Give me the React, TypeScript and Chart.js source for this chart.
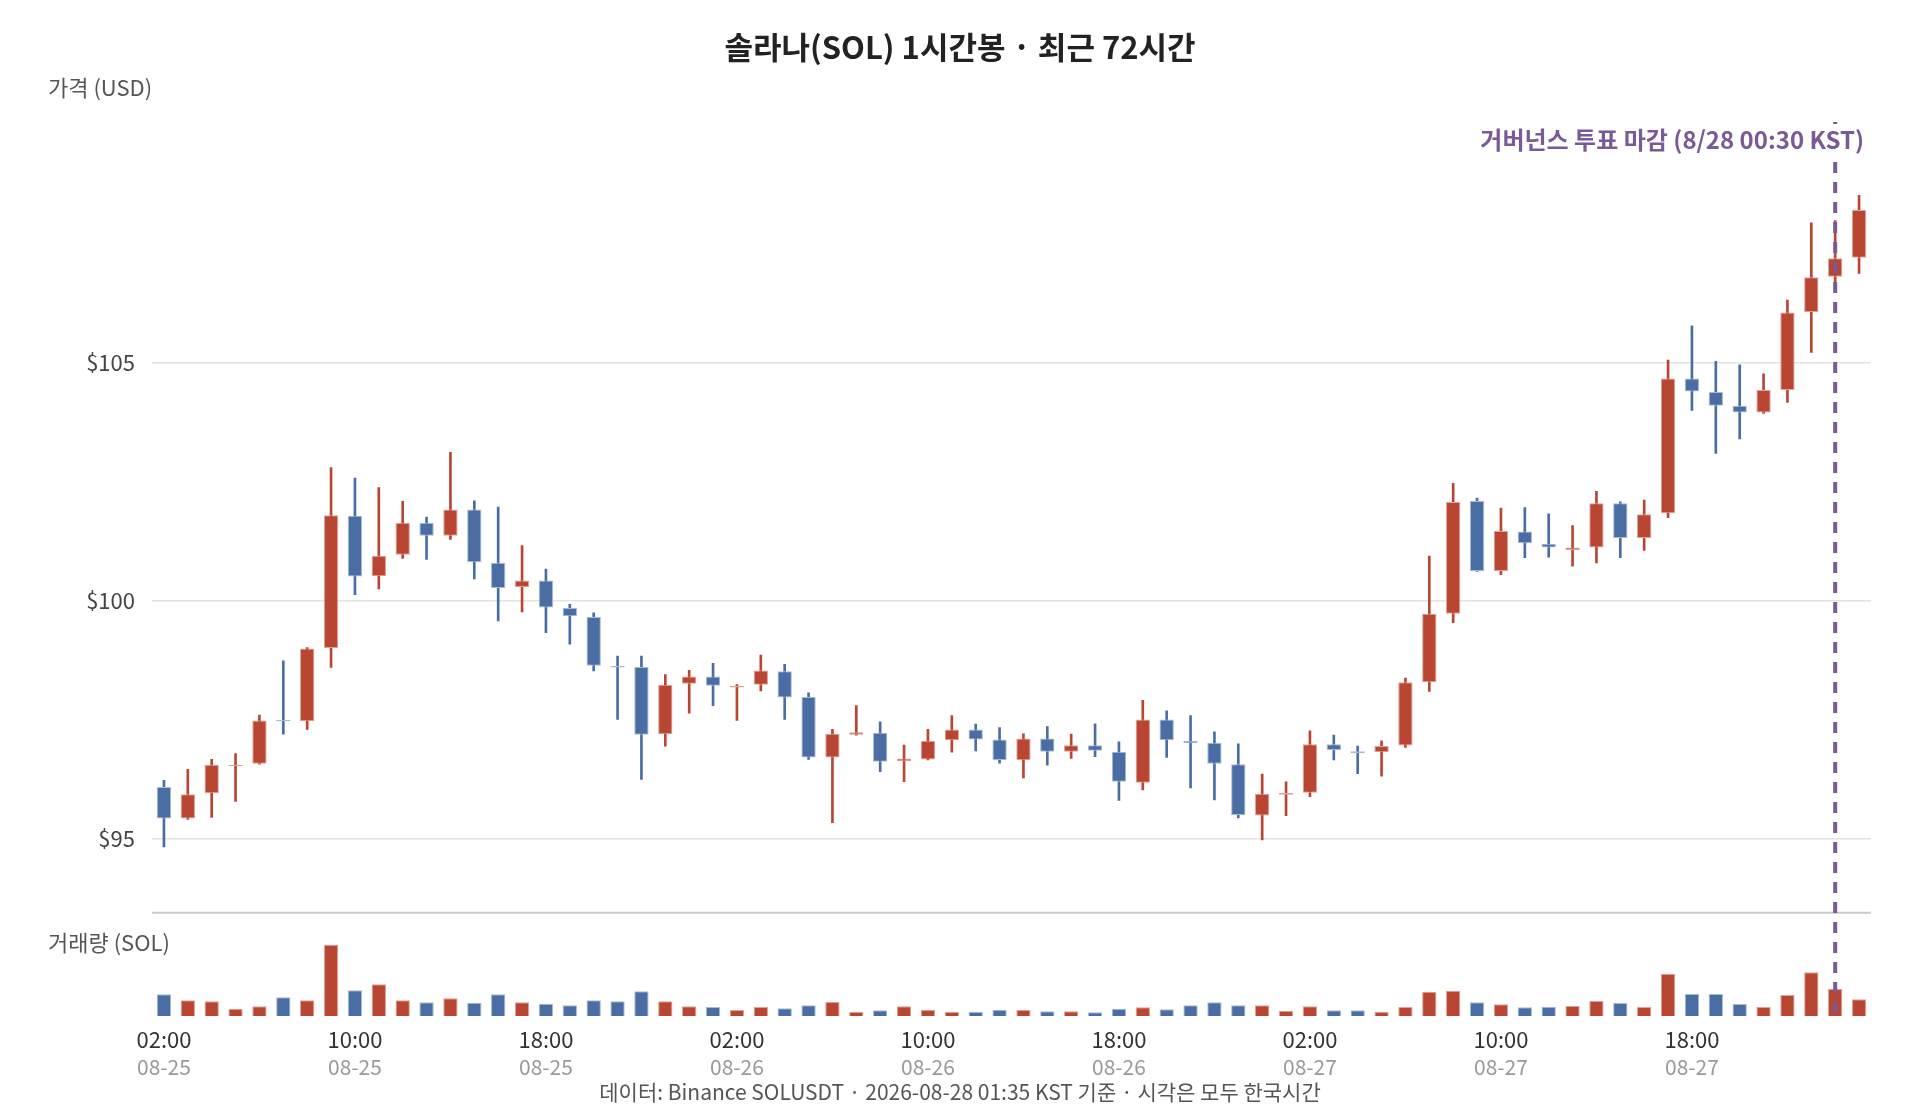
import { useEffect, useRef } from 'react';
import { Chart, registerables } from 'chart.js';

Chart.register(...registerables);

// ---- data ----
const hours = [
  '02:00', '03:00', '04:00', '05:00', '06:00', '07:00', '08:00', '09:00', '10:00', '11:00', '12:00',
  '13:00', '14:00', '15:00', '16:00', '17:00', '18:00', '19:00', '20:00', '21:00', '22:00', '23:00',
  '00:00', '01:00', '02:00', '03:00', '04:00', '05:00', '06:00', '07:00', '08:00', '09:00', '10:00', '11:00',
  '12:00', '13:00', '14:00', '15:00', '16:00', '17:00', '18:00', '19:00', '20:00', '21:00', '22:00', '23:00',
  '00:00', '01:00', '02:00', '03:00', '04:00', '05:00', '06:00', '07:00', '08:00', '09:00', '10:00', '11:00',
  '12:00', '13:00', '14:00', '15:00', '16:00', '17:00', '18:00', '19:00', '20:00', '21:00', '22:00', '23:00',
  '00:00', '01:00',
];
const dates = [
  '08-25', '08-25', '08-25', '08-25', '08-25', '08-25', '08-25', '08-25', '08-25', '08-25', '08-25',
  '08-25', '08-25', '08-25', '08-25', '08-25', '08-25', '08-25', '08-25', '08-25', '08-25', '08-25',
  '08-26', '08-26', '08-26', '08-26', '08-26', '08-26', '08-26', '08-26', '08-26', '08-26', '08-26', '08-26',
  '08-26', '08-26', '08-26', '08-26', '08-26', '08-26', '08-26', '08-26', '08-26', '08-26', '08-26', '08-26',
  '08-27', '08-27', '08-27', '08-27', '08-27', '08-27', '08-27', '08-27', '08-27', '08-27', '08-27', '08-27',
  '08-27', '08-27', '08-27', '08-27', '08-27', '08-27', '08-27', '08-27', '08-27', '08-27', '08-27', '08-27',
  '08-28', '08-28',
];
const opens = [
  96.09, 95.43, 95.96, 96.53, 96.58, 97.5, 97.47, 99.01, 101.79, 100.52, 100.97, 101.64,
  101.37, 101.92, 100.8, 100.29, 100.43, 99.85, 99.66, 98.63, 98.61, 97.2, 98.26, 98.41,
  98.18, 98.24, 98.52, 97.98, 96.71, 97.19, 97.23, 96.63, 96.67, 97.07, 97.3, 97.09,
  96.65, 97.11, 96.83, 96.97, 96.83, 96.18, 97.51, 97.06, 97.02, 96.57, 95.49, 95.93,
  95.97, 96.99, 96.84, 96.82, 96.96, 98.29, 99.73, 102.1, 100.63, 101.46, 101.2, 101.07,
  101.12, 102.05, 101.32, 101.84, 104.67, 104.39, 104.1, 103.96, 104.43, 106.07, 106.81, 107.21,
];
const highs = [
  96.23, 96.46, 96.67, 96.79, 97.6, 98.74, 99.02, 102.8, 102.58, 102.38, 102.09, 101.76,
  103.12, 102.1, 101.97, 101.16, 100.67, 99.93, 99.75, 98.84, 98.84, 98.45, 98.54, 98.69,
  98.24, 98.86, 98.67, 98.07, 97.3, 97.8, 97.46, 96.97, 97.3, 97.59, 97.41, 97.34,
  97.21, 97.36, 97.2, 97.42, 97.04, 97.91, 97.69, 97.59, 97.25, 97.0, 96.36, 96.2,
  97.27, 97.18, 96.95, 97.06, 98.38, 100.94, 102.47, 102.16, 101.95, 101.96, 101.83, 101.58,
  102.3, 102.08, 102.12, 105.06, 105.78, 105.03, 104.96, 104.77, 106.32, 107.94, 107.99, 108.52,
];
const lows = [
  94.83, 95.41, 95.45, 95.79, 96.57, 97.2, 97.3, 98.6, 100.13, 100.25, 100.89, 100.87,
  101.29, 100.46, 99.58, 99.77, 99.33, 99.09, 98.53, 97.51, 96.25, 96.95, 97.64, 97.8,
  97.49, 98.11, 97.51, 96.67, 95.34, 97.18, 96.41, 96.2, 96.66, 96.82, 96.85, 96.59,
  96.28, 96.55, 96.69, 96.73, 95.81, 96.03, 96.71, 96.07, 95.82, 95.44, 94.98, 95.49,
  95.89, 96.66, 96.37, 96.32, 96.92, 98.1, 99.54, 100.62, 100.55, 100.91, 100.92, 100.73,
  100.8, 100.91, 101.06, 101.75, 104.0, 103.1, 103.4, 103.94, 104.17, 105.22, 106.69, 106.88,
];
const closes = [
  95.43, 95.94, 96.56, 96.56, 97.49, 97.47, 99.0, 101.8, 100.51, 100.95, 101.64, 101.37,
  101.92, 100.81, 100.27, 100.43, 99.86, 99.68, 98.64, 98.6, 97.19, 98.24, 98.41, 98.22,
  98.22, 98.54, 97.97, 96.71, 97.21, 97.24, 96.62, 96.69, 97.06, 97.3, 97.09, 96.66,
  97.11, 96.83, 96.97, 96.85, 96.2, 97.51, 97.07, 97.01, 96.58, 95.5, 95.95, 95.97,
  96.99, 96.87, 96.8, 96.95, 98.29, 99.73, 102.08, 100.63, 101.47, 101.21, 101.12, 101.12,
  102.05, 101.32, 101.82, 104.67, 104.4, 104.1, 103.96, 104.43, 106.06, 106.8, 107.2, 108.21,
];
const volumes = [
  65000, 47000, 44000, 22000, 29000, 56000, 47000, 214000, 77000, 95000, 47000, 41000,
  53000, 40000, 65000, 41000, 37000, 32000, 47000, 44000, 74000, 44000, 29000, 27000,
  18000, 27000, 23000, 32000, 42000, 13000, 17000, 29000, 19000, 13000, 13000, 19000,
  18000, 14000, 14000, 11000, 22000, 26000, 20000, 32000, 41000, 32000, 32000, 16000,
  29000, 17000, 17000, 13000, 27000, 73000, 76000, 41000, 35000, 26000, 28000, 30000,
  45000, 39000, 27000, 127000, 66000, 66000, 36000, 27000, 63000, 131000, 81000, 50000,
];
const priceTicks = [95, 100, 105];
const tickEvery = 8;
const eventIndex = 70;
const eventLabel = '거버넌스 투표 마감 (8/28 00:30 KST)';
const titleText = '솔라나(SOL) 1시간봉 · 최근 72시간';
const footText = '데이터: Binance SOLUSDT · 2026-08-28 01:35 KST 기준 · 시각은 모두 한국시간';
const priceAxisTitle = '가격 (USD)';
const volumeAxisTitle = '거래량 (SOL)';

// ---- style ----
const UP = '#B84632';
const DOWN = '#4A6EA4';
const UP_EDGE = '#E2A194';
const DOWN_EDGE = '#A6BAD8';
const PURPLE = '#7A5A96';
const FONT = "'Noto Sans CJK KR', 'Noto Sans', sans-serif";

const overlayPlugin = {
  id: 'overlay',
  afterDatasetsDraw(chart: any) {
    const { ctx, chartArea, scales } = chart;
    const y = scales.y;
    const yv = scales.yv;
    const x = scales.x;
    ctx.save();
    // separator between price & volume panes
    ctx.strokeStyle = '#c9c9c9';
    ctx.lineWidth = 2;
    ctx.beginPath();
    ctx.moveTo(chartArea.left, y.bottom);
    ctx.lineTo(chartArea.right, y.bottom);
    ctx.stroke();
    // event line
    const ex = x.getPixelForValue(eventIndex);
    ctx.strokeStyle = PURPLE;
    ctx.lineWidth = 4;
    ctx.setLineDash([11, 9]);
    ctx.beginPath();
    ctx.moveTo(ex, chartArea.top);
    ctx.lineTo(ex, chartArea.bottom);
    ctx.stroke();
    ctx.setLineDash([]);
    // event label
    ctx.font = `bold 24px ${FONT}`;
    const tw = ctx.measureText(eventLabel).width;
    const tx = chartArea.right - 7;
    const ty = chartArea.top + 18;
    ctx.fillStyle = '#ffffff';
    ctx.fillRect(tx - tw - 6, ty - 16, tw + 12, 32);
    ctx.fillStyle = PURPLE;
    ctx.textAlign = 'right';
    ctx.textBaseline = 'middle';
    ctx.fillText(eventLabel, tx, ty);
    // axis titles
    ctx.font = `22px ${FONT}`;
    ctx.fillStyle = '#555555';
    ctx.textAlign = 'left';
    ctx.fillText(priceAxisTitle, 40, 80);
    ctx.fillText(volumeAxisTitle, 40, yv.top + 30);
    ctx.restore();
  },
};

export default function App() {
  const ref = useRef<HTMLCanvasElement>(null);

  useEffect(() => {
    if (!ref.current) return;
    Chart.defaults.font.family = FONT;
    const fills = opens.map((o, i) => (closes[i] >= o ? UP : DOWN));
    const edges = opens.map((o, i) => (closes[i] >= o ? UP_EDGE : DOWN_EDGE));
    const bodyData = opens.map((o, i) => [o, closes[i]]);
    const wickData = lows.map((l, i) => [l, highs[i]]);

    const chart = new Chart(ref.current, {
      type: 'bar',
      data: {
        labels: hours,
        datasets: [
          {
            label: 'body',
            data: bodyData as any,
            xAxisID: 'x',
            yAxisID: 'y',
            backgroundColor: fills,
            borderColor: edges,
            borderWidth: 1,
            borderSkipped: false,
            barPercentage: 0.6,
            categoryPercentage: 1,
            grouped: false,
            order: 1,
          },
          {
            label: 'wick',
            data: wickData as any,
            xAxisID: 'x',
            yAxisID: 'y',
            backgroundColor: fills,
            borderWidth: 0,
            barThickness: 2,
            grouped: false,
            order: 2,
          },
          {
            label: 'volume',
            data: volumes,
            xAxisID: 'x',
            yAxisID: 'yv',
            backgroundColor: fills,
            borderColor: edges,
            borderWidth: 1,
            barPercentage: 0.6,
            categoryPercentage: 1,
            grouped: false,
            order: 3,
          },
        ],
      },
      options: {
        animation: false,
        responsive: true,
        maintainAspectRatio: false,
        events: [],
        layout: { padding: { left: 41, right: 41, top: 0, bottom: 0 } },
        plugins: {
          legend: { display: false },
          tooltip: { enabled: false },
          title: {
            display: true,
            text: titleText,
            color: '#222222',
            font: { size: 31, weight: 'bold', family: FONT },
            padding: { top: 20.4, bottom: 56.4 },
          },
          subtitle: {
            display: true,
            position: 'bottom',
            text: footText,
            color: '#555555',
            font: { size: 21, family: FONT },
            padding: { top: 0, bottom: 7.4 },
          },
        },
        scales: {
          x: {
            type: 'category',
            position: 'bottom',
            offset: true,
            grid: { display: false, drawTicks: false },
            border: { display: false },
            ticks: {
              autoSkip: false,
              maxRotation: 0,
              minRotation: 0,
              padding: 10.8,
              color: '#333333',
              font: { size: 22 },
              callback: (_v: any, i: number) => (i % tickEvery === 0 ? hours[i] : ''),
            },
            afterFit: (s: any) => {
              s.height = 36;
            },
          },
          x2: {
            type: 'category',
            position: 'bottom',
            labels: dates,
            offset: true,
            grid: { display: false, drawTicks: false },
            border: { display: false },
            ticks: {
              autoSkip: false,
              maxRotation: 0,
              minRotation: 0,
              padding: 2.1,
              color: '#999999',
              font: { size: 21 },
              callback: (_v: any, i: number) => (i % tickEvery === 0 ? dates[i] : ''),
            },
            afterFit: (s: any) => {
              s.height = 27.4;
            },
          },
          yv: {
            type: 'linear',
            position: 'left',
            stack: 'pane',
            stackWeight: 103.3,
            min: 0,
            max: 310000,
            grid: { display: false, drawTicks: false },
            border: { display: false },
            ticks: { display: false },
            afterFit: (s: any) => {
              s.width = 103;
            },
          },
          y: {
            type: 'linear',
            position: 'left',
            stack: 'pane',
            stackWeight: 790.7,
            min: 93.45,
            max: 110.06,
            grid: { color: '#e3e3e3', lineWidth: 1.5, drawTicks: false },
            border: { display: false },
            afterBuildTicks: (axis: any) => {
              axis.ticks = priceTicks.map((v) => ({ value: v }));
            },
            ticks: {
              padding: 17,
              color: '#444444',
              font: { size: 22 },
              callback: (v: any) => '$' + v,
            },
            afterFit: (s: any) => {
              s.width = 103;
            },
          },
        },
      } as any,
      plugins: [overlayPlugin],
    });
    return () => chart.destroy();
  }, []);

  return (
    <div style={{ position: 'relative', width: '1904px', height: '1104px' }}>
      <canvas ref={ref} />
    </div>
  );
}
